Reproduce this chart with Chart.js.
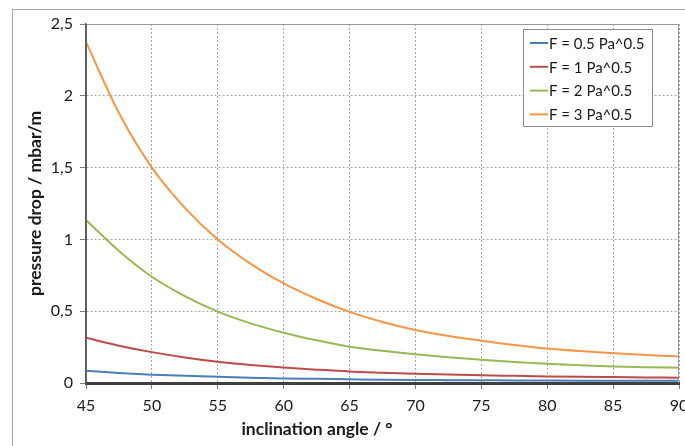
<!DOCTYPE html>
<html>
<head>
<meta charset="utf-8">
<script src="https://cdn.jsdelivr.net/npm/chart.js@4/dist/chart.umd.min.js"></script>
<style>
  html, body { margin: 0; padding: 0; background: #fff; }
  #wrap { width: 685px; height: 446px; position: relative; }
</style>
</head>
<body>
<div id="wrap"><canvas id="grafico"></canvas></div>
<script>
// datos (cada 2,5 grados)
const angulos = [45, 47.5, 50, 52.5, 55, 57.5, 60, 62.5, 65, 67.5, 70, 72.5, 75, 77.5, 80, 82.5, 85, 87.5, 90];
const f05 = [0.085, 0.07, 0.058, 0.05, 0.043, 0.037, 0.032, 0.029, 0.026, 0.023, 0.021, 0.02, 0.019, 0.018, 0.017, 0.0165, 0.016, 0.0155, 0.015];
const f1 = [0.315, 0.26, 0.215, 0.178, 0.148, 0.126, 0.108, 0.093, 0.08, 0.072, 0.065, 0.059, 0.054, 0.05, 0.046, 0.043, 0.041, 0.039, 0.037];
const f2 = [1.135, 0.92, 0.74, 0.605, 0.497, 0.415, 0.35, 0.297, 0.253, 0.224, 0.2, 0.18, 0.162, 0.147, 0.134, 0.123, 0.115, 0.11, 0.107];
const f3 = [2.375, 1.88, 1.5, 1.22, 1.0, 0.83, 0.693, 0.585, 0.495, 0.425, 0.369, 0.328, 0.295, 0.265, 0.24, 0.222, 0.208, 0.195, 0.185];
const etiquetas = ["F = 0.5 Pa^0.5", "F = 1 Pa^0.5", "F = 2 Pa^0.5", "F = 3 Pa^0.5"];
const colores = ["#4a7ebb", "#be4b48", "#98b954", "#f79646"];
const tituloX = "inclination angle / °";

const fuente = "Lato, 'Open Sans', sans-serif";

function serie(i, valores) {
  return {
    label: etiquetas[i],
    data: angulos.map((a, k) => ({ x: a, y: valores[k] })),
    borderColor: colores[i],
    backgroundColor: colores[i],
    borderWidth: 2,
    pointRadius: 0,
    cubicInterpolationMode: 'monotone',
    fill: false
  };
}

// marco exterior, ejes, titulo x y leyenda
const extras = {
  id: 'extras',
  beforeDraw(chart) {
    const c = chart.ctx;
    c.save();
    c.fillStyle = '#fff';
    c.fillRect(0, 0, chart.width, chart.height);
    c.strokeStyle = '#a6a6a6';
    c.lineWidth = 1;
    c.strokeRect(12.5, 9.5, 800, 600);
    c.restore();
  },
  afterDatasetsDraw(chart) {
    const c = chart.ctx;
    const a = chart.chartArea;
    c.save();
    c.strokeStyle = '#9a9a9a';
    c.lineWidth = 1;
    c.beginPath();
    c.moveTo(a.left, a.top + 0.5);
    c.lineTo(a.right - 0.5, a.top + 0.5);
    c.lineTo(a.right - 0.5, a.bottom);
    c.stroke();
    // eje y solido
    c.strokeStyle = '#595959';
    c.lineWidth = 1.5;
    c.beginPath();
    c.moveTo(a.left, a.top);
    c.lineTo(a.left, a.bottom);
    c.stroke();

    // titulo del eje x (en Excel queda desplazado a la izquierda)
    c.font = "bold 17.5px " + fuente;
    c.fillStyle = '#1a1a1a';
    c.textAlign = 'center';
    c.textBaseline = 'middle';
    c.fillText(tituloX, 317, 429);

    // leyenda
    const x0 = 523.5, y0 = 29.5, w = 129, h = 97;
    c.fillStyle = '#fff';
    c.fillRect(x0, y0, w, h);
    c.strokeStyle = '#8c8c8c';
    c.lineWidth = 1;
    c.strokeRect(x0, y0, w, h);
    c.font = "15px " + fuente;
    c.textAlign = 'left';
    c.textBaseline = 'middle';
    c.fillStyle = '#1a1a1a';
    chart.data.datasets.forEach((ds, i) => {
      const y = 43 + i * 23.8;
      c.strokeStyle = ds.borderColor;
      c.lineWidth = 2;
      c.beginPath();
      c.moveTo(530, y);
      c.lineTo(548, y);
      c.stroke();
      c.fillText(ds.label, 549, y + 1);
    });
    c.restore();
  }
};

new Chart(document.getElementById("grafico").getContext("2d"), {
  type: 'line',
  data: {
    datasets: [serie(0, f05), serie(1, f1), serie(2, f2), serie(3, f3)]
  },
  plugins: [extras],
  options: {
    responsive: true,
    maintainAspectRatio: false,
    animation: false,
    layout: { padding: { left: 0, right: 6, top: 24, bottom: 0 } },
    plugins: { legend: { display: false }, tooltip: { enabled: false } },
    scales: {
      x: {
        type: 'linear',
        min: 45, max: 90,
        afterFit: s => { s.height = 63; s.paddingRight = 0; s.paddingLeft = 0; },
        ticks: { stepSize: 5, color: '#1a1a1a', padding: 7, maxRotation: 0, font: { family: fuente, size: 16 } },
        grid: { color: '#a8a8a8', tickColor: '#7f7f7f', tickLength: 6, tickBorderDash: [] },
        border: { color: '#404040', width: 3, dash: [2, 2] }
      },
      y: {
        min: 0, max: 2.5,
        afterFit: s => { s.width = 86; },
        ticks: { stepSize: 0.5, color: '#1a1a1a', padding: 7, font: { family: fuente, size: 16 },
                 callback: v => String(v).replace('.', ',') },
        grid: { color: '#a8a8a8', tickColor: '#7f7f7f', tickLength: 6, tickBorderDash: [] },
        border: { color: '#595959', width: 1.5, dash: [2, 2] },
        title: { display: true, text: 'pressure drop / mbar/m', color: '#1a1a1a', padding: { top: 25, bottom: 0 },
                 font: { family: fuente, size: 17.5, weight: 'bold' } }
      }
    }
  }
});
</script>
</body>
</html>
